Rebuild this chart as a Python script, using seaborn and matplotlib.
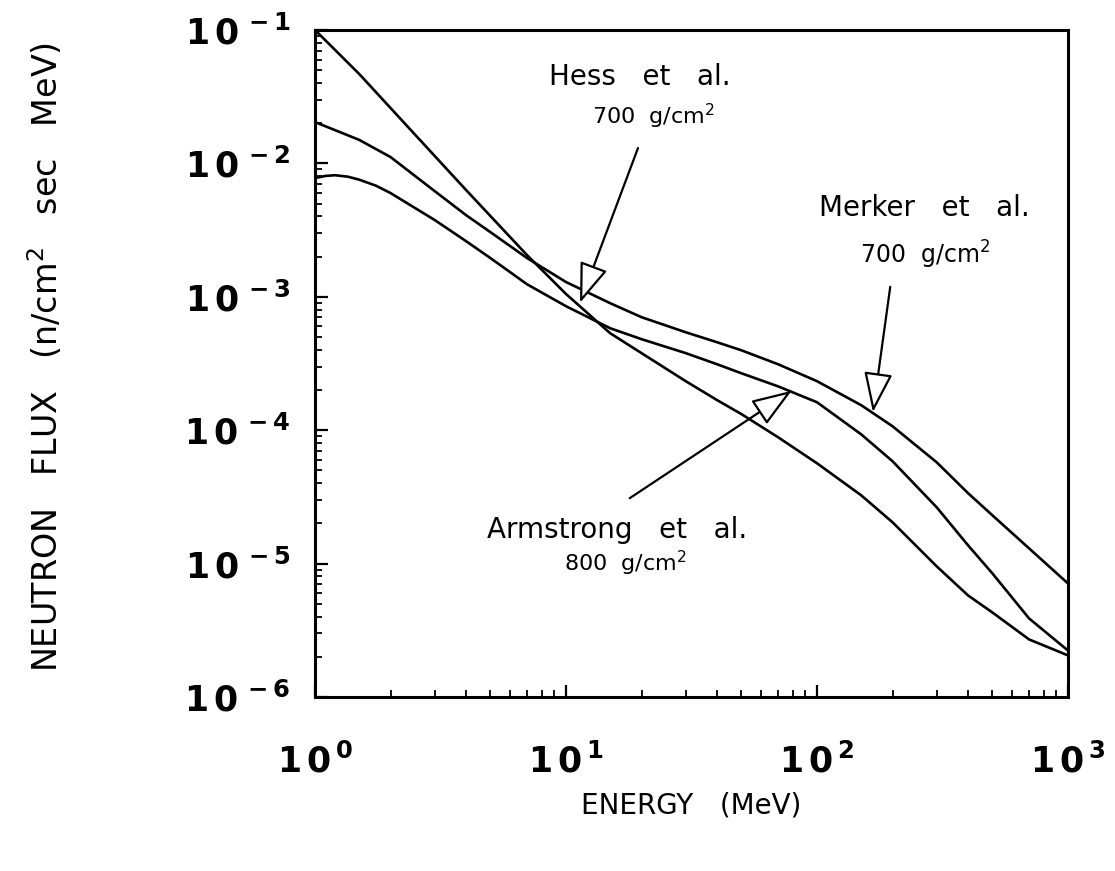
import numpy as np
import pandas as pd
import matplotlib
matplotlib.use("Agg")
import matplotlib.pyplot as plt
import seaborn as sns

# ---- data (energy in MeV, flux in n/cm^2 s MeV) ----
energy_common = [1, 1.5, 2, 3, 4, 5, 7, 10, 15, 20, 30, 40, 50, 70, 100,
                 150, 200, 300, 400, 500, 700, 1000]
hess_flux = [0.1, 0.0468, 0.0260, 0.01135, 6.31e-3, 4.03e-3, 2.05e-3, 1.05e-3,
             5.33e-4, 3.78e-4, 2.33e-4, 1.68e-4, 1.32e-4, 8.85e-5, 5.65e-5,
             3.25e-5, 2.04e-5, 9.53e-6, 5.77e-6, 4.30e-6, 2.70e-6, 2.05e-6]
merker_flux = [0.0204, 0.0150, 0.01115, 6.19e-3, 4.09e-3, 3.05e-3, 1.95e-3,
               1.29e-3, 8.95e-4, 7.03e-4, 5.42e-4, 4.56e-4, 3.97e-4, 3.12e-4,
               2.33e-4, 1.54e-4, 1.07e-4, 5.74e-5, 3.37e-5, 2.30e-5, 1.30e-5,
               7.10e-6]
armstrong_energy = [1, 1.1, 1.2, 1.35, 1.5, 1.75, 2, 3, 4, 5, 7, 10, 15, 20, 30,
                    40, 50, 70, 100, 150, 200, 300, 400, 500, 700, 1000]
armstrong_flux = [7.76e-3, 8.05e-3, 8.15e-3, 7.95e-3, 7.55e-3, 6.8e-3, 5.99e-3,
                  3.76e-3, 2.61e-3, 1.95e-3, 1.24e-3, 8.50e-4, 5.81e-4, 4.81e-4,
                  3.78e-4, 3.12e-4, 2.67e-4, 2.13e-4, 1.62e-4, 9.31e-5, 5.85e-5,
                  2.64e-5, 1.37e-5, 8.44e-6, 3.88e-6, 2.23e-6]

xtick_values = [1, 10, 100, 1000]
xtick_labels = [r"$\mathbf{1\,0^{\,0}}$", r"$\mathbf{1\,0^{\,1}}$",
                r"$\mathbf{1\,0^{\,2}}$", r"$\mathbf{1\,0^{\,3}}$"]
ytick_values = [1e-6, 1e-5, 1e-4, 1e-3, 1e-2, 1e-1]
ytick_labels = [r"$\mathbf{1\,0^{\,-6}}$", r"$\mathbf{1\,0^{\,-5}}$",
                r"$\mathbf{1\,0^{\,-4}}$", r"$\mathbf{1\,0^{\,-3}}$",
                r"$\mathbf{1\,0^{\,-2}}$", r"$\mathbf{1\,0^{\,-1}}$"]

x_label = "ENERGY   (MeV)"
y_label = r"NEUTRON   FLUX   (n/cm$^{2}$   sec   MeV)"

# ---- style ----
sns.set_style("ticks")
plt.rcParams["font.family"] = ["DejaVu Sans"]
plt.rcParams["mathtext.fontset"] = "dejavusans"
for key in ["text.color", "axes.labelcolor", "xtick.color", "ytick.color",
            "axes.edgecolor"]:
    plt.rcParams[key] = "black"

fig = plt.figure(figsize=(11.15, 8.71), dpi=100)
ax = fig.add_axes([0.2825, 0.1998, 0.6753, 0.7658])

curves = [
    pd.DataFrame({"energy": energy_common, "flux": hess_flux}),
    pd.DataFrame({"energy": energy_common, "flux": merker_flux}),
    pd.DataFrame({"energy": armstrong_energy, "flux": armstrong_flux}),
]
for df in curves:
    sns.lineplot(data=df, x="energy", y="flux", ax=ax, color="black",
                 linewidth=1.9, estimator=None)

ax.set_xscale("log")
ax.set_yscale("log")
ax.set_xlim(1, 1000)
ax.set_ylim(1e-6, 1e-1)

ax.set_xticks(xtick_values)
ax.set_xticklabels(xtick_labels, fontsize=25)
ax.set_yticks(ytick_values)
ax.set_yticklabels(ytick_labels, fontsize=25)

ax.tick_params(axis="both", which="major", direction="in", length=9, width=1.6,
               top=False, right=False)
ax.tick_params(axis="both", which="minor", direction="in", length=5, width=1.3,
               top=False, right=False)
ax.tick_params(axis="y", which="major", pad=18)
ax.tick_params(axis="x", which="major", pad=33)

for sp in ax.spines.values():
    sp.set_linewidth(2.2)
    sp.set_visible(True)
    sp.set_color("black")

ax.set_xlabel(x_label, fontsize=20)
ax.set_ylabel(y_label, fontsize=24)
ax.xaxis.label.set_va("center")
ax.yaxis.label.set_va("center")
ax.xaxis.set_label_coords(0.5, -0.162)
ax.yaxis.set_label_coords(-0.358, 0.51)

# ---- annotations ----
arrow_kw = dict(arrowstyle="-|>,head_length=1.25,head_width=0.45",
                mutation_scale=20, fc="white", ec="black", lw=1.6,
                shrinkA=0, shrinkB=0)

ax.text(0.432, 0.930, "Hess   et   al.", transform=ax.transAxes,
        ha="center", va="center", fontsize=20)
ax.text(0.449, 0.871, r"700  g/cm$^{2}$", transform=ax.transAxes,
        ha="center", va="center", fontsize=16)
ax.annotate("", xy=(0.352, 0.591), xytext=(0.429, 0.823),
            xycoords="axes fraction", textcoords="axes fraction",
            arrowprops=arrow_kw)

ax.text(0.809, 0.733, "Merker   et   al.", transform=ax.transAxes,
        ha="center", va="center", fontsize=20)
ax.text(0.810, 0.663, r"700  g/cm$^{2}$", transform=ax.transAxes,
        ha="center", va="center", fontsize=17)
ax.annotate("", xy=(0.741, 0.427), xytext=(0.764, 0.615),
            xycoords="axes fraction", textcoords="axes fraction",
            arrowprops=arrow_kw)

ax.text(0.401, 0.250, "Armstrong   et   al.", transform=ax.transAxes,
        ha="center", va="center", fontsize=20)
ax.text(0.412, 0.201, r"800  g/cm$^{2}$", transform=ax.transAxes,
        ha="center", va="center", fontsize=16)
ax.annotate("", xy=(0.633, 0.459), xytext=(0.418, 0.298),
            xycoords="axes fraction", textcoords="axes fraction",
            arrowprops=arrow_kw)

fig.savefig("out.png", dpi=100, facecolor="white")
